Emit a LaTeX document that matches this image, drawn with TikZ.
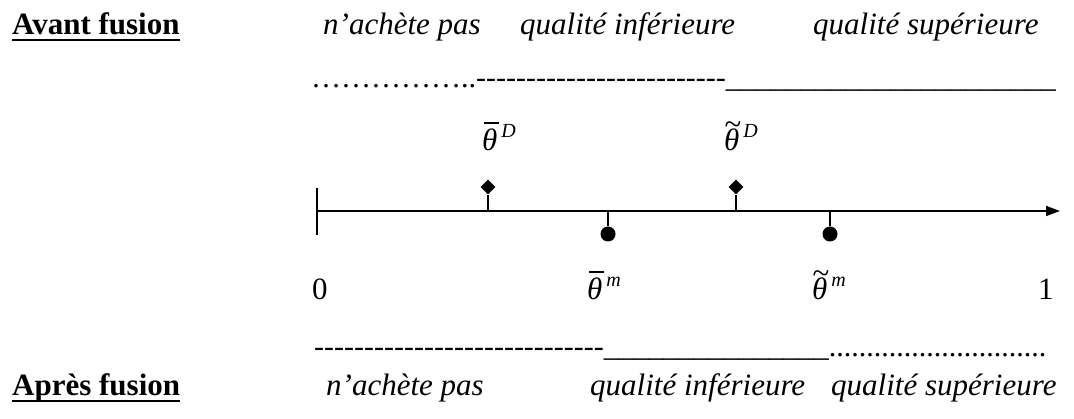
\documentclass[tikz,border=0pt]{standalone}
\usepackage{fontspec}
\setmainfont{Liberation Serif}
\usetikzlibrary{arrows.meta,shapes.geometric}
\newcommand{\grand}{\fontsize{31}{37}\selectfont}
\newcommand{\moyen}{\fontsize{30}{36}\selectfont}
\newcommand{\petit}{\fontsize{20}{24}\selectfont}
% theta with a bar or a tilde, and its index
\newcommand{\thbarre}[1]{\rlap{\kern2pt\vrule width 15pt height 29pt depth -27.2pt}θ\kern4pt\raisebox{13pt}{\petit #1}}
\newcommand{\thvague}[1]{\rlap{\kern0.5pt\raisebox{16pt}{\upshape\textasciitilde}}θ\kern4pt\raisebox{13pt}{\petit #1}}
\ExplSyntaxOn
\NewDocumentCommand{\rep}{mm}{\prg_replicate:nn{#1}{#2}}
\ExplSyntaxOff
\tikzset{
  titre/.style={font=\grand\bfseries, anchor=base west, inner sep=0pt},
  souligne/.style={line width=2.4pt},
  choix/.style={font=\grand\itshape, anchor=base west, inner sep=0pt},
  ligne/.style={font=\moyen, anchor=base west, inner sep=0pt},
  seuil/.style={font=\grand\itshape, anchor=base west, inner sep=0pt},
  borne/.style={font=\grand, anchor=base west, inner sep=0pt},
  losange/.style={diamond, fill=black, inner sep=0pt, minimum size=15pt},
  rond/.style={circle, fill=black, inner sep=0pt, minimum size=15pt},
  tige/.style={line width=1.5pt},
}
\begin{document}
\begin{tikzpicture}[x=1pt,y=-1pt]
\useasboundingbox (0,0) rectangle (1074,419);
% before the merger
\node[titre] (avant) at (12,35) {Avant fusion};
\draw[souligne] ([yshift=-5pt]avant.base west) -- ([yshift=-5pt]avant.base east);
\node[choix] (avpas) at (323,35) {n’achète pas};
\node[choix] (avinf) at (520,35) {qualité inférieure};
\node[choix] (avsup) at (813,35) {qualité supérieure};
\node[ligne] (avligne) at (311,88) {……………..\rep{25}{-\kern0pt}\rep{22}{\_}};
% thresholds of the duopoly
\node[seuil] (barD) at (482,151) {\thbarre{D}};
\node[seuil] (tilD) at (724,151) {\thvague{D}};
% axis
\coordinate (zero) at (317,211);
\coordinate (un) at (1060,211);
\coordinate (zhaut) at (317,188);
\coordinate (zbas) at (317,235);
\draw[tige, -{Triangle[length=14pt,width=10pt]}] (zero) -- (un);
\draw[tige] (zhaut) -- (zbas);
% duopoly marks (diamonds) and monopoly marks (dots)
\node[losange] (dbarD) at (488,187) {};
\node[losange] (dtilD) at (736,187) {};
\coordinate (pbarD) at (488,211);
\coordinate (ptilD) at (736,211);
\draw[tige] (pbarD) -- (dbarD);
\draw[tige] (ptilD) -- (dtilD);
\node[rond] (rbarm) at (608,234) {};
\node[rond] (rtilm) at (830,234) {};
\coordinate (pbarm) at (608,211);
\coordinate (ptilm) at (830,211);
\draw[tige] (pbarm) -- (rbarm);
\draw[tige] (ptilm) -- (rtilm);
% bounds and thresholds of the merged firm
\node[borne] (nzero) at (312,300) {0};
\node[borne] (nun) at (1038,300) {1};
\node[seuil] (barm) at (587,300) {\thbarre{m}};
\node[seuil] (tilm) at (812,300) {\thvague{m}};
% after the merger
\node[ligne] (apligne) at (314,357) {\rep{29}{-\kern0pt}\rep{15}{\_}\rep{29}{.}};
\node[titre] (apres) at (12,396) {Après fusion};
\draw[souligne] ([yshift=-5pt]apres.base west) -- ([yshift=-5pt]apres.base east);
\node[choix] (appas) at (326,396) {n’achète pas};
\node[choix] (apinf) at (590,396) {qualité inférieure};
\node[choix] (apsup) at (831,396) {qualité supérieure};
\end{tikzpicture}
\end{document}
